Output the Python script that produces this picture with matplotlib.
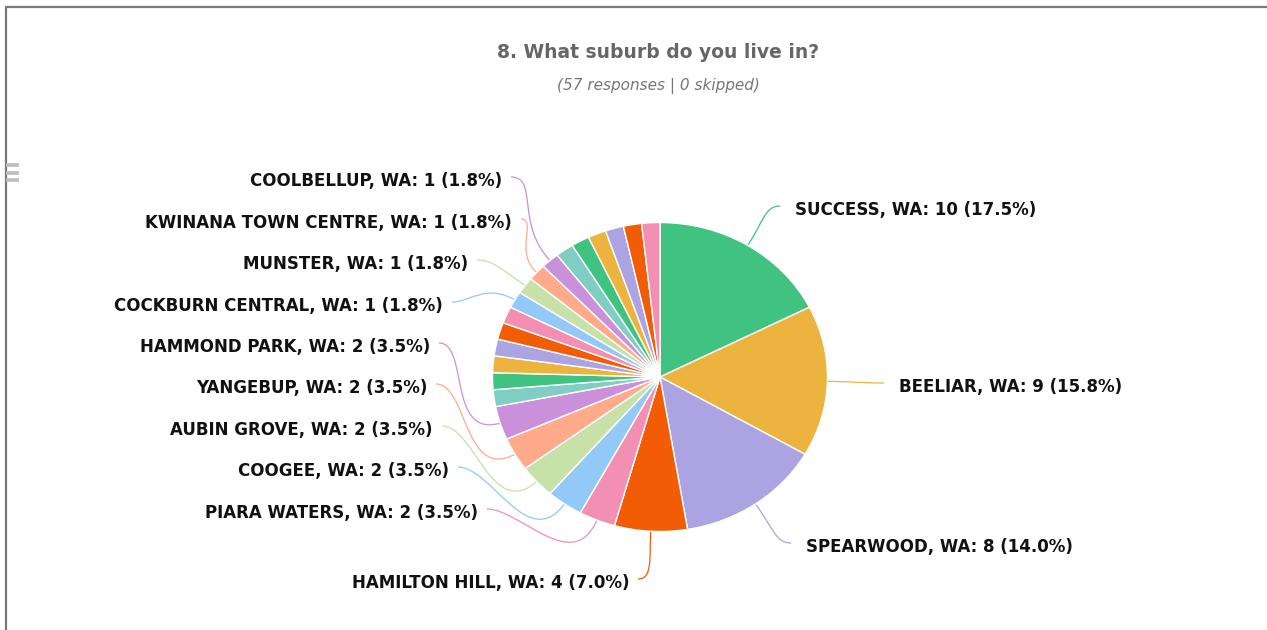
import numpy as np
import matplotlib
matplotlib.use("Agg")
import matplotlib.pyplot as plt
from matplotlib.path import Path
from matplotlib.patches import PathPatch

W, H = 1267, 630

TITLE = "8. What suburb do you live in?"
SUBTITLE = "(57 responses | 0 skipped)"

# slices in clockwise order from 12 o'clock; blank names are slices without a label
suburbs = [
    "SUCCESS, WA", "BEELIAR, WA", "SPEARWOOD, WA", "HAMILTON HILL, WA",
    "PIARA WATERS, WA", "COOGEE, WA", "AUBIN GROVE, WA", "YANGEBUP, WA",
    "HAMMOND PARK, WA",
    "", "", "", "", "", "",
    "COCKBURN CENTRAL, WA", "MUNSTER, WA", "KWINANA TOWN CENTRE, WA", "COOLBELLUP, WA",
    "", "", "", "", "", "",
]
counts = [10, 9, 8, 4, 2, 2, 2, 2, 2,
          1, 1, 1, 1, 1, 1,
          1, 1, 1, 1,
          1, 1, 1, 1, 1, 1]

palette = ["#40c381", "#ecb43f", "#aca3e3", "#f25c05", "#f28fb2",
           "#92c9f6", "#c7e1a8", "#ffab8b", "#cb90da", "#80cdc3"]

# layout: pie box (pixels) and where each connector meets its label
CX, CY, RX, RY = 660.0, 377.0, 167.5, 154.5
label_ends = {
    "SUCCESS, WA": (780, 206),
    "BEELIAR, WA": (884, 383),
    "SPEARWOOD, WA": (791, 543),
    "HAMILTON HILL, WA": (638, 579),
    "PIARA WATERS, WA": (487, 509),
    "COOGEE, WA": (458, 467),
    "AUBIN GROVE, WA": (442, 426),
    "YANGEBUP, WA": (436, 384),
    "HAMMOND PARK, WA": (439, 343),
    "COCKBURN CENTRAL, WA": (452, 302),
    "MUNSTER, WA": (477, 260),
    "KWINANA TOWN CENTRE, WA": (521, 219),
    "COOLBELLUP, WA": (511, 177),
}

fig = plt.figure(figsize=(W / 100, H / 100), dpi=100)
fig.patch.set_facecolor("white")

# overlay in pixel coordinates (y down)
ov = fig.add_axes([0, 0, 1, 1])
ov.set_xlim(0, W)
ov.set_ylim(H, 0)
ov.axis("off")

# frame and menu icon
ov.plot([5, W], [6.5, 6.5], color="#7a7a7a", lw=1.6, solid_capstyle="butt")
ov.plot([5.5, 5.5], [6.5, H], color="#7a7a7a", lw=1.6, solid_capstyle="butt")
for yy in (165, 172.5, 180):
    ov.plot([6, 19], [yy, yy], color="#bdbdbd", lw=2.6, solid_capstyle="butt")

ov.text(658, 52, TITLE, ha="center", va="center", fontsize=13.5,
        fontweight="bold", color="#666666")
ov.text(658, 86, SUBTITLE, ha="center", va="center", fontsize=11,
        style="italic", color="#777777")

# pie
pa = fig.add_axes([(CX - RX) / W, (H - CY - RY) / H, 2 * RX / W, 2 * RY / H])
colors = [palette[i % len(palette)] for i in range(len(counts))]
pa.pie(counts, colors=colors, startangle=90, counterclock=False, radius=1,
       wedgeprops=dict(edgecolor="white", linewidth=1.0))
pa.set_xlim(-1, 1)
pa.set_ylim(-1, 1)
pa.set_aspect("auto")
pa.axis("off")

total = sum(counts)
cum = np.cumsum([0] + counts)
for i, (name, n) in enumerate(zip(suburbs, counts)):
    if not name:
        continue
    theta = np.radians((cum[i] + n / 2) / total * 360)
    u = np.array([np.sin(theta) * RX, -np.cos(theta) * RY])
    u = u / np.hypot(*u)
    touch = np.array([CX + RX * np.sin(theta), CY - RY * np.cos(theta)])
    lab = np.array(label_ends[name], dtype=float)
    dist = np.hypot(*(lab - touch))
    right_side = lab[0] > CX + 20
    c1 = lab + np.array([-0.3 * dist if right_side else 0.3 * dist, 0])
    c2 = touch + u * 0.55 * dist
    verts = [tuple(lab), tuple(c1), tuple(c2), tuple(touch)]
    codes = [Path.MOVETO, Path.CURVE4, Path.CURVE4, Path.CURVE4]
    ov.add_patch(PathPatch(Path(verts, codes), fill=False, edgecolor=colors[i], lw=0.9))

    txt = f"{name}: {n} ({n / total * 100:.1f}%)"
    if right_side:
        ov.text(lab[0] + 15, lab[1] + 4, txt, ha="left", va="center", fontsize=12,
                fontweight="bold", color="#111111")
    else:
        ov.text(lab[0] - 9, lab[1] + 4, txt, ha="right", va="center", fontsize=12,
                fontweight="bold", color="#111111")

fig.savefig("out.png", dpi=100)
